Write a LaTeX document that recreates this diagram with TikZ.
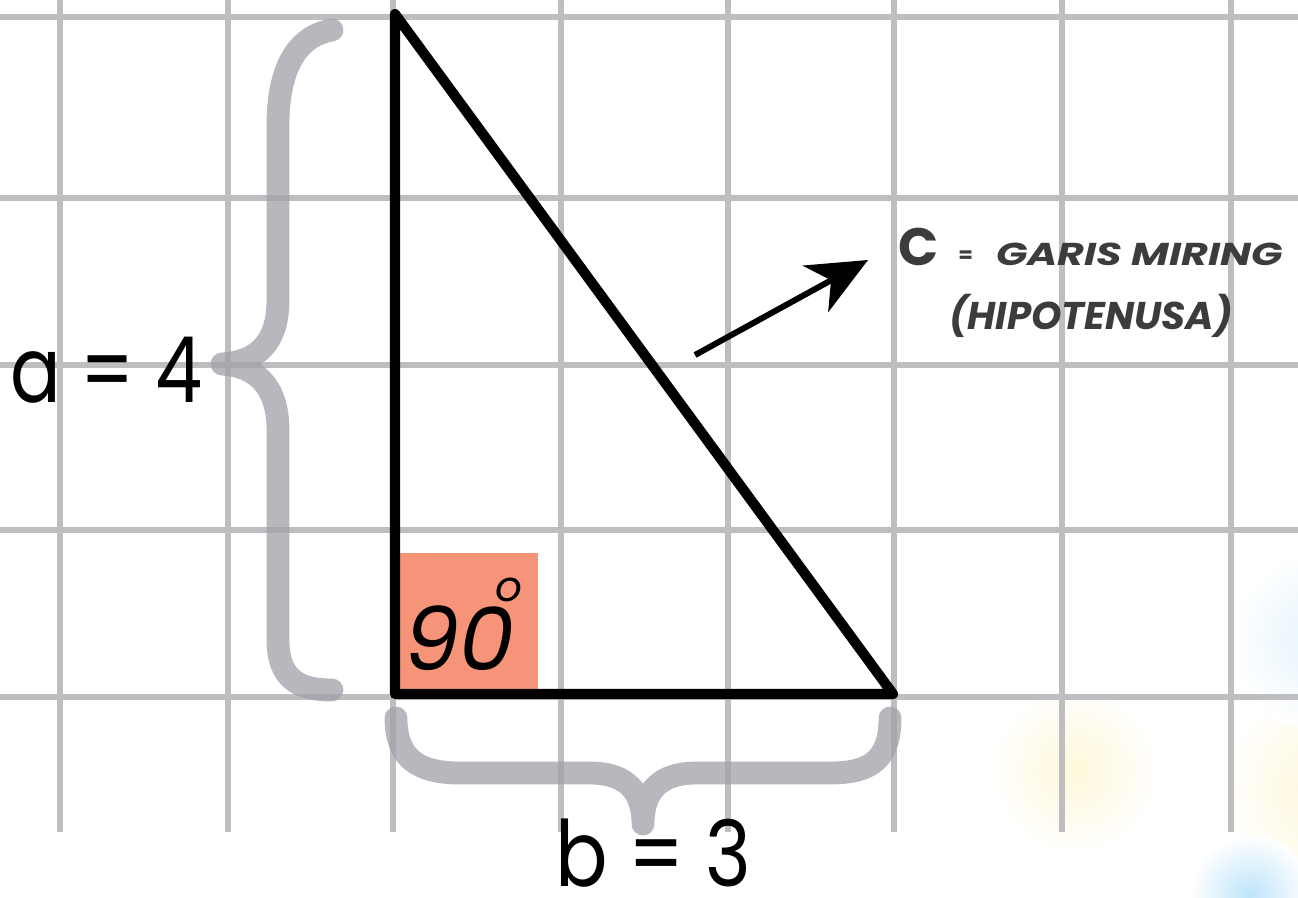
\documentclass[tikz,border=0pt]{standalone}
\usepackage{fontspec}
\setmainfont{Poppins}
\usetikzlibrary{arrows.meta}
\definecolor{gridgray}{RGB}{190,190,192}
\definecolor{bracegray}{RGB}{160,160,168}
\definecolor{salmon}{RGB}{245,148,120}
\definecolor{textgray}{RGB}{60,60,62}
\tikzset{
  gridline/.style={draw=gridgray, line width=3pt},
  brace/.style={draw=bracegray, opacity=0.75, line width=13pt, line cap=round, line join=round},
  tri/.style={draw=black, line width=5.8pt, line join=round},
  pointer/.style={draw=black, line width=3.4pt, -{Stealth[length=34pt,width=30pt,inset=10pt]}},
  bigtext/.style={inner sep=0pt, font=\fontsize{52}{52}\selectfont, text=black},
  note/.style={inner sep=0pt, text=textgray, font=\bfseries\itshape\fontsize{18}{18}\selectfont}
}
\begin{document}
\begin{tikzpicture}[x=0.02cm,y=-0.02cm]
\useasboundingbox (0,0) rectangle (1298,897);
\fill[white] (0,0) rectangle (1298,897);
% faint background blobs
\shade[inner color={rgb,255:red,255;green,248;blue,218}, outer color=white] (1075,770) circle (85);
\shade[inner color={rgb,255:red,255;green,247;blue,215}, outer color=white] (1330,790) circle (110);
\shade[inner color={rgb,255:red,228;green,243;blue,252}, outer color=white] (1320,640) circle (90);
\shade[inner color={rgb,255:red,190;green,228;blue,250}, outer color=white] (1250,895) circle (60);
% grid
\foreach \gx in {60,228,393,561,728,894,1062,1231} {
  \draw[gridline] (\gx,0) -- (\gx,832);
}
\foreach \gy in {17,198,365,530,697} {
  \draw[gridline] (0,\gy) -- (1298,\gy);
}
% braces
\draw[brace] (332,30) .. controls (296,36) and (278,70) .. (278,125) -- (278,300)
  .. controls (278,345) and (255,362) .. (222,364)
  .. controls (255,366) and (278,385) .. (278,430) -- (278,640)
  .. controls (278,680) and (300,690) .. (332,690);
\draw[brace] (396,718) .. controls (396,760) and (420,773) .. (460,773) -- (590,773)
  .. controls (625,773) and (643,790) .. (643,824)
  .. controls (643,790) and (661,773) .. (696,773) -- (830,773)
  .. controls (870,773) and (890,760) .. (890,718);
% right-angle square
\fill[salmon] (398,553) rectangle (538,694);
% triangle
\coordinate (A) at (395,14);
\coordinate (B) at (395,694);
\coordinate (Cv) at (893,694);
\draw[tri] (A) -- (B) -- (Cv) -- cycle;
\node[bigtext, anchor=base west, font=\itshape\fontsize{50}{50}\selectfont] (ang) at (404,670) {90};
\node[inner sep=0pt, font=\itshape\fontsize{24}{24}\selectfont, anchor=center] (deg) at (509,590) {o};
% labels a and b
\node[bigtext, anchor=base west] (la) at (10,402) {\scalebox{0.82}[1]{a = 4}};
\node[bigtext, anchor=base, text depth=0pt] (lb) at (653,886) {\scalebox{0.85}[1]{b = 3}};
% arrow to hypotenuse note
\coordinate (arrS) at (695,355);
\coordinate (arrE) at (868,260);
\draw[pointer] (arrS) -- (arrE);
\node[inner sep=0pt, anchor=base west, text=textgray, font=\bfseries\fontsize{30}{30}\selectfont] (lc) at (898,265) {C};
\node[note, anchor=base west, font=\bfseries\fontsize{12}{12}\selectfont] (eq) at (958,262) {=};
\node[note, anchor=base west] (garis) at (996,265) {\scalebox{1.3}[1]{GARIS MIRING}};
\node[note, anchor=base, font=\bfseries\itshape\fontsize{22}{22}\selectfont] (hipo) at (1091,329) {(HIPOTENUSA)};
\end{tikzpicture}
\end{document}
